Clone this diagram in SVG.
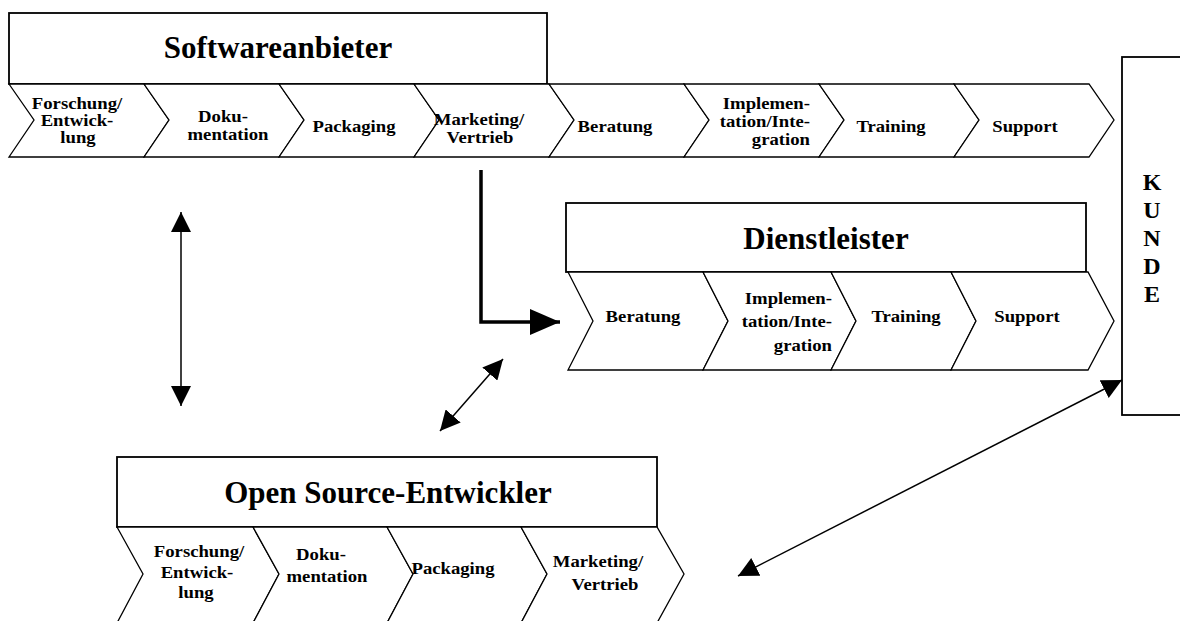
<svg xmlns="http://www.w3.org/2000/svg" width="1180" height="621" viewBox="0 0 1180 621">
<style>
.box{fill:#fff;stroke:#000;stroke-width:1.8}
.chev{fill:#fff;stroke:#000;stroke-width:1.3}
.title{font-family:"Liberation Serif",serif;font-weight:bold;font-size:31px;text-anchor:middle}
.lbl{font-family:"Liberation Serif",serif;font-weight:bold;font-size:17px;text-anchor:middle}
.r{text-anchor:end}
.kunde{font-family:"Liberation Serif",serif;font-weight:bold;font-size:24px;text-anchor:middle}
.thin{stroke:#000;stroke-width:1.5;fill:none}
.thick{stroke:#000;stroke-width:3.5;fill:none}
</style>
<defs>
<marker id="ah" viewBox="0 0 20 20" refX="20" refY="10" markerWidth="20" markerHeight="20" markerUnits="userSpaceOnUse" orient="auto-start-reverse"><path d="M0,0 L20,10 L0,20 Z" fill="#000"/></marker>
<marker id="ahb" viewBox="0 0 30 26" refX="30" refY="13" markerWidth="30" markerHeight="26" markerUnits="userSpaceOnUse" orient="auto"><path d="M0,0 L30,13 L0,26 Z" fill="#000"/></marker>
</defs>
<rect width="1180" height="621" fill="#fff"/>

<g id="softwareanbieter">
<rect class="box" x="9" y="13" width="538" height="71"/>
<text class="title" x="278" y="58">Softwareanbieter</text>
<path class="chev" d="M9,84 L144,84 L169,120 L144,157 L9,157 L34,120 Z"/>
<path class="chev" d="M144,84 L279,84 L304,120 L279,157 L144,157 L169,120 Z"/>
<path class="chev" d="M279,84 L414,84 L439,120 L414,157 L279,157 L304,120 Z"/>
<path class="chev" d="M414,84 L549,84 L574,120 L549,157 L414,157 L439,120 Z"/>
<path class="chev" d="M549,84 L684,84 L709,120 L684,157 L549,157 L574,120 Z"/>
<path class="chev" d="M684,84 L819,84 L844,120 L819,157 L684,157 L709,120 Z"/>
<path class="chev" d="M819,84 L954,84 L979,120 L954,157 L819,157 L844,120 Z"/>
<path class="chev" d="M954,84 L1089,84 L1114,120 L1089,157 L954,157 L979,120 Z"/>
<text class="lbl" transform="translate(77,109) scale(1.1,1)">Forschung/</text>
<text class="lbl" transform="translate(77,126) scale(1.1,1)">Entwick-</text>
<text class="lbl" transform="translate(78,143) scale(1.1,1)">lung</text>
<text class="lbl" transform="translate(223,122) scale(1.1,1)">Doku-</text>
<text class="lbl" transform="translate(228,140) scale(1.1,1)">mentation</text>
<text class="lbl" transform="translate(354,132) scale(1.1,1)">Packaging</text>
<text class="lbl" transform="translate(479,125) scale(1.1,1)">Marketing/</text>
<text class="lbl" transform="translate(480,143) scale(1.1,1)">Vertrieb</text>
<text class="lbl" transform="translate(615,132) scale(1.1,1)">Beratung</text>
<text class="lbl r" transform="translate(810,109) scale(1.1,1)">Implemen-</text>
<text class="lbl r" transform="translate(810,127) scale(1.1,1)">tation/Inte-</text>
<text class="lbl r" transform="translate(810,145) scale(1.1,1)">gration</text>
<text class="lbl" transform="translate(891,132) scale(1.1,1)">Training</text>
<text class="lbl" transform="translate(1025,132) scale(1.1,1)">Support</text>
</g>

<g id="dienstleister">
<rect class="box" x="566" y="203" width="520" height="69"/>
<text class="title" x="826" y="249">Dienstleister</text>
<path class="chev" d="M568,272 L703,272 L728,321 L703,370 L568,370 L593,321 Z"/>
<path class="chev" d="M703,272 L831,272 L856,321 L831,370 L703,370 L728,321 Z"/>
<path class="chev" d="M831,272 L951,272 L976,321 L951,370 L831,370 L856,321 Z"/>
<path class="chev" d="M951,272 L1088,272 L1114,321 L1088,370 L951,370 L976,321 Z"/>
<text class="lbl" transform="translate(643,322) scale(1.1,1)">Beratung</text>
<text class="lbl r" transform="translate(832,304) scale(1.1,1)">Implemen-</text>
<text class="lbl r" transform="translate(832,327) scale(1.1,1)">tation/Inte-</text>
<text class="lbl r" transform="translate(832,351) scale(1.1,1)">gration</text>
<text class="lbl" transform="translate(906,322) scale(1.1,1)">Training</text>
<text class="lbl" transform="translate(1027,322) scale(1.1,1)">Support</text>
</g>

<g id="kunde">
<rect class="box" x="1122" y="57" width="80" height="358"/>
<text class="kunde" x="1152" y="190">K</text>
<text class="kunde" x="1152" y="218">U</text>
<text class="kunde" x="1152" y="246">N</text>
<text class="kunde" x="1152" y="274">D</text>
<text class="kunde" x="1152" y="302">E</text>
</g>

<g id="open-source-entwickler">
<rect class="box" x="117" y="457" width="540" height="70"/>
<text class="title" x="388" y="503">Open Source-Entwickler</text>
<path class="chev" d="M117,527 L253,527 L279,574 L253,623 L117,623 L143,574 Z"/>
<path class="chev" d="M253,527 L387,527 L413,574 L387,623 L253,623 L279,574 Z"/>
<path class="chev" d="M387,527 L521,527 L547,574 L521,623 L387,623 L413,574 Z"/>
<path class="chev" d="M521,527 L657,527 L684,574 L657,623 L521,623 L547,574 Z"/>
<text class="lbl" transform="translate(199,557) scale(1.1,1)">Forschung/</text>
<text class="lbl" transform="translate(197,578) scale(1.1,1)">Entwick-</text>
<text class="lbl" transform="translate(196,598) scale(1.1,1)">lung</text>
<text class="lbl" transform="translate(321,560) scale(1.1,1)">Doku-</text>
<text class="lbl" transform="translate(327,582) scale(1.1,1)">mentation</text>
<text class="lbl" transform="translate(453,574) scale(1.1,1)">Packaging</text>
<text class="lbl" transform="translate(598,567) scale(1.1,1)">Marketing/</text>
<text class="lbl" transform="translate(605,590) scale(1.1,1)">Vertrieb</text>
</g>

<g id="connectors">
<polyline class="thick" points="481,170 481,322 560,322" marker-end="url(#ahb)"/>
<line class="thin" x1="181" y1="212" x2="181" y2="406" marker-start="url(#ah)" marker-end="url(#ah)"/>
<line class="thin" x1="440" y1="431" x2="503" y2="359" marker-start="url(#ah)" marker-end="url(#ah)"/>
<line class="thin" x1="738" y1="576" x2="1122" y2="380" marker-start="url(#ah)" marker-end="url(#ah)"/>
</g>
</svg>
